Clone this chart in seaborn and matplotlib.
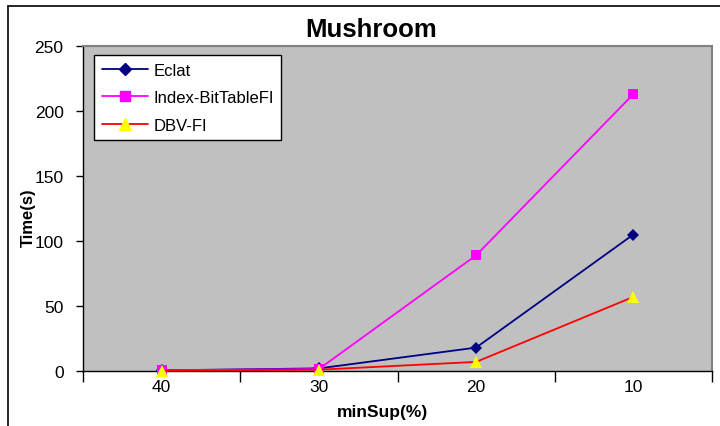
import matplotlib
matplotlib.use("Agg")
import matplotlib.pyplot as plt
from matplotlib.lines import Line2D
import seaborn as sns
import pandas as pd
import numpy as np

categories = ["40", "30", "20", "10"]
eclat = [0.5, 2.0, 18.0, 105.0]
index_bittable = [0.5, 1.5, 89.0, 213.0]
dbv_fi = [0.2, 1.0, 7.0, 57.0]
series_names = ["Eclat", "Index-BitTableFI", "DBV-FI"]

sns.set_theme(style="white")
plt.rcParams["font.family"] = ["Liberation Sans", "DejaVu Sans"]
plt.rcParams["text.color"] = "black"
plt.rcParams["axes.labelcolor"] = "black"
plt.rcParams["xtick.color"] = "black"
plt.rcParams["ytick.color"] = "black"

rows = []
for name, vals in zip(series_names, [eclat, index_bittable, dbv_fi]):
    for i, (c, v) in enumerate(zip(categories, vals)):
        rows.append({"pos": i, "minSup": c, "Time": v, "series": name})
df = pd.DataFrame(rows)

fig = plt.figure(figsize=(7.2, 4.27), dpi=100)
ax = fig.add_axes([83/720, 1-372/427, (712-83)/720, (372-47)/427])
ax.set_facecolor("#C0C0C0")

palette = {"Eclat": "#000080", "Index-BitTableFI": "#FF00FF", "DBV-FI": "#FF0000"}
markers = {"Eclat": "D", "Index-BitTableFI": "s", "DBV-FI": "^"}
sns.lineplot(data=df, x="pos", y="Time", hue="series", style="series",
             palette=palette, markers=markers, dashes=False, linewidth=1.3,
             markersize=8, markeredgewidth=0, ax=ax, legend=False, sort=False)

mfc = {"Eclat": "#000080", "Index-BitTableFI": "#FF00FF", "DBV-FI": "#FFFF00"}
msz = {"Eclat": 6.5, "Index-BitTableFI": 7.5, "DBV-FI": 8.5}
for line, name in zip(ax.get_lines(), series_names):
    line.set_markerfacecolor(mfc[name])
    line.set_markeredgecolor(mfc[name])
    line.set_markersize(msz[name])
    line.set_clip_on(False)
    line.set_zorder(3)

ax.set_xlim(-0.5, 3.5)
ax.set_ylim(0, 250)
ax.set_yticks(np.arange(0, 251, 50))
ax.set_xticks(np.arange(-0.5, 3.6, 1.0))
ax.set_xticklabels([])
ax.set_xticks(np.arange(0, 4), minor=True)
ax.set_xticklabels(categories, minor=True)
ax.tick_params(axis="x", which="major", direction="out", length=8, width=1, color="black", bottom=True)
ax.tick_params(axis="x", which="minor", length=0, pad=6, labelsize=12.5, bottom=True, labelcolor="black")
ax.tick_params(axis="y", direction="out", length=5, width=1, color="black", labelsize=12.5, pad=9, left=True, labelcolor="black")

for s in ["left", "bottom"]:
    ax.spines[s].set_color("black")
    ax.spines[s].set_linewidth(1.0)
for s in ["top", "right"]:
    ax.spines[s].set_color("#808080")
    ax.spines[s].set_linewidth(1.5)

ax.set_xlabel("")
ax.set_ylabel("")
fig.text(382/720, 1-413/427, "minSup(%)", ha="center", va="center", fontsize=12.5, fontweight="bold", color="black")
fig.text(28/720, 1-218/427, "Time(s)", ha="center", va="center", rotation=90, fontsize=12, fontweight="bold", color="black")
fig.text(371/720, 1-30/427, "Mushroom", ha="center", va="center", fontsize=18.5, fontweight="bold", color="black")

handles = [Line2D([0], [0], color=palette[n], lw=1.3, marker=markers[n],
                  markerfacecolor=mfc[n], markeredgecolor=mfc[n], markersize=msz[n])
           for n in series_names]
leg = ax.legend(handles, series_names, loc="upper left", bbox_to_anchor=(0.0175, 0.972),
                borderaxespad=0, fontsize=12, frameon=True, fancybox=False,
                edgecolor="black", facecolor="white", framealpha=1,
                handlelength=2.8, handletextpad=0.3, labelspacing=0.75,
                borderpad=0.45)
for t in leg.get_texts():
    t.set_color("black")
leg.get_frame().set_linewidth(1.0)

fig.add_artist(Line2D([8/720, 1.0], [1-7/427, 1-7/427], transform=fig.transFigure, color="black", lw=1.2))
fig.add_artist(Line2D([8/720, 8/720], [1-7/427, 0.0], transform=fig.transFigure, color="black", lw=1.2))

fig.savefig("out.png", dpi=100, facecolor="white")
